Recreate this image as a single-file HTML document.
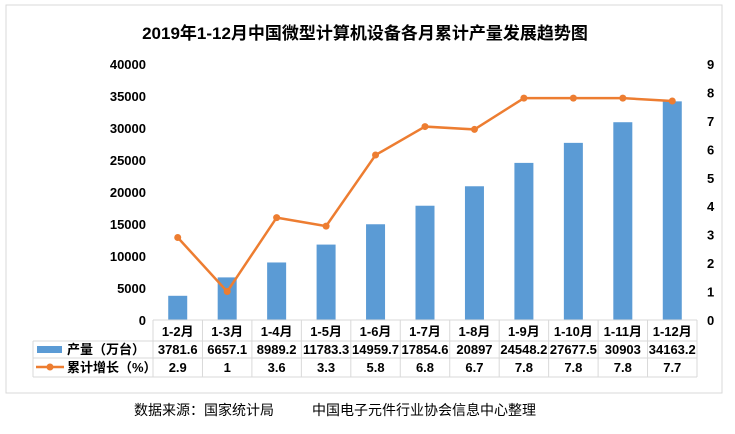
<!DOCTYPE html>
<html><head><meta charset="utf-8"><style>
body{margin:0;background:#fff;}
svg text{font-family:"Liberation Sans","Noto Sans CJK SC",sans-serif;}
</style></head><body>
<svg id="c" width="735" height="429" viewBox="0 0 735 429">
<rect x="6" y="5" width="716" height="388" fill="#fff" stroke="#d9d9d9"/>
<text x="365" y="39" text-anchor="middle" font-size="17" font-weight="bold" fill="#000">2019年1-12月中国微型计算机设备各月累计产量发展趋势图</text>
<g id="g"></g>
<text x="134" y="415" font-size="14" fill="#000">数据来源：国家统计局</text>
<text x="312" y="415" font-size="14" fill="#000">中国电子元件行业协会信息中心整理</text>
</svg>
<script>
const categories=["1-2月","1-3月","1-4月","1-5月","1-6月","1-7月","1-8月","1-9月","1-10月","1-11月","1-12月"];
const production=[3781.6,6657.1,8989.2,11783.3,14959.7,17854.6,20897,24548.2,27677.5,30903,34163.2];
const growth=[2.9,1,3.6,3.3,5.8,6.8,6.7,7.8,7.8,7.8,7.7];
const leftTicks=[0,5000,10000,15000,20000,25000,30000,35000,40000];
const rightTicks=[0,1,2,3,4,5,6,7,8,9];
const NS="http://www.w3.org/2000/svg";
const g=document.getElementById('g');
const x0=153,x1=697,y0=320,yt=64,cw=(x1-x0)/categories.length;
const yL=v=>y0-(v/40000)*(y0-yt);
const yR=v=>y0-(v/9)*(y0-yt);
const xc=i=>x0+(i+0.5)*cw;
function mk(t,a,txt){const e=document.createElementNS(NS,t);for(const k in a)e.setAttribute(k,a[k]);if(txt!==undefined)e.textContent=txt;g.appendChild(e);return e;}
leftTicks.forEach(v=>{const e=mk('text',{x:146,y:yL(v)+5,'text-anchor':'end','font-size':13,'font-weight':'bold'},v);

});
rightTicks.forEach(v=>{const e=mk('text',{x:707,y:yR(v)+5,'font-size':13,'font-weight':'bold'},v);

});
production.forEach((v,i)=>{const e=mk('rect',{x:xc(i)-9.5,y:yL(v),width:19,height:y0-yL(v),fill:'#5b9bd5'});

});
const pl=mk('polyline',{points:growth.map((v,i)=>xc(i)+','+yR(v)).join(' '),fill:'none',stroke:'#ed7d31','stroke-width':2.5});


growth.forEach((v,i)=>{const e=mk('circle',{cx:xc(i),cy:yR(v),r:3.5,fill:'#ed7d31'});

});
const rows=[320,341,358,377];
const lc='#d9d9d9';
rows.forEach((y,k)=>mk('line',{x1:k==0?x0:33,x2:x1,y1:y,y2:y,stroke:lc}));
mk('line',{x1:33,x2:33,y1:341,y2:377,stroke:lc});
for(let i=0;i<=categories.length;i++)mk('line',{x1:x0+i*cw,x2:x0+i*cw,y1:320,y2:377,stroke:lc});
categories.forEach((c,i)=>{const e=mk('text',{x:xc(i),y:336,'text-anchor':'middle','font-size':13,'font-weight':'bold'},c);

});
production.forEach((v,i)=>{const e=mk('text',{x:xc(i),y:354,'text-anchor':'middle','font-size':13,'font-weight':'bold'},v);

});
growth.forEach((v,i)=>{const e=mk('text',{x:xc(i),y:372,'text-anchor':'middle','font-size':13,'font-weight':'bold'},v);

});
const lb=mk('rect',{x:37,y:346,width:25,height:7,fill:'#5b9bd5'});


mk('text',{x:67,y:354,'font-size':13,'font-weight':'bold'},'产量（万台）');
const ll=mk('line',{x1:36,x2:64,y1:367,y2:367,stroke:'#ed7d31','stroke-width':2.5});


mk('circle',{cx:50,cy:367,r:3.5,fill:'#ed7d31'});
mk('text',{x:67,y:372,'font-size':13,'font-weight':'bold'},'累计增长（%）');
</script>
</body></html>
